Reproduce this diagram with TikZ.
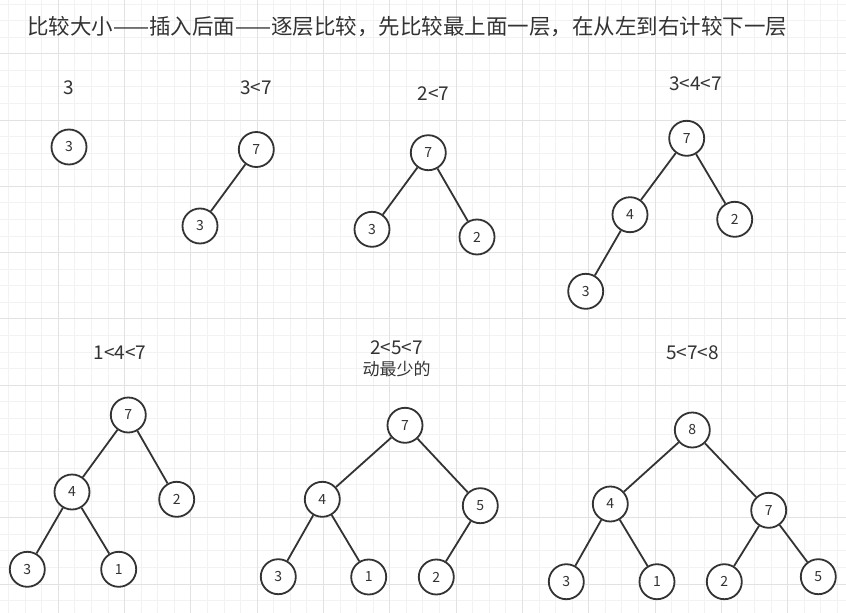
\documentclass[tikz,border=0pt]{standalone}
\usepackage{fontspec}
\setmainfont{Noto Sans CJK SC}
\definecolor{gridminor}{HTML}{F2F2F2}
\definecolor{gridmajor}{HTML}{E2E2E2}
\definecolor{ink}{HTML}{333333}
\tikzset{
  nd/.style={circle, draw=ink, line width=1.8pt, minimum size=35pt, inner sep=0pt, fill=white, text=ink, font=\fontsize{14}{14}\selectfont},
  lbl/.style={text=ink, inner sep=0pt, font=\fontsize{19}{19}\selectfont},
  edg/.style={draw=ink, line width=1.8pt},
}
\begin{document}
\begin{tikzpicture}[x=1pt,y=-1pt]
\useasboundingbox (0,0) rectangle (846,613);
\fill[white] (0,0) rectangle (846,613);
\begin{scope}
\clip (0,0) rectangle (846,613);
\foreach \i in {0,...,51} {\draw[gridminor, line width=1pt] ({8.6+\i*16.575},0) -- ++(0,613);}
\foreach \i in {0,...,37} {\draw[gridminor, line width=1pt] (0,{4.0+\i*16.575}) -- ++(846,0);}
\foreach \i in {0,...,13} {\draw[gridmajor, line width=1pt] ({58.3+(\i-1)*66.3},0) -- ++(0,613);}
\foreach \i in {0,...,10} {\draw[gridmajor, line width=1pt] (0,{120+(\i-2)*66.3}) -- ++(846,0);}
\end{scope}

\node[lbl, anchor=west, font=\fontsize{21.5}{22}\selectfont] (title) at (27,27) {比较大小——插入后面——逐层比较，先比较最上面一层，在从左到右计较下一层};

% tree 1
\node[lbl] (l1) at (69,88) {3};
\node[nd] (a1) at (69,147) {3};

% tree 2
\node[lbl] (l2) at (256,88) {3<7};
\node[nd] (b7) at (256.3,149.5) {7};
\node[nd] (b3) at (200,226) {3};
\draw[edg] (b7) -- (b3);

% tree 3
\node[lbl] (l3) at (433.3,94) {2<7};
\node[nd] (c7) at (428.3,152.7) {7};
\node[nd] (c3) at (372,229.3) {3};
\node[nd] (c2) at (477,237) {2};
\draw[edg] (c7) -- (c3);
\draw[edg] (c7) -- (c2);

% tree 4
\node[lbl] (l4) at (695.7,84) {3<4<7};
\node[nd] (d7) at (686.7,138.3) {7};
\node[nd] (d4) at (630,214.7) {4};
\node[nd] (d2) at (734.7,219.3) {2};
\node[nd] (d3) at (585.7,291.3) {3};
\draw[edg] (d7) -- (d4);
\draw[edg] (d7) -- (d2);
\draw[edg] (d4) -- (d3);

% tree 5
\node[lbl] (l5) at (120,352.7) {1<4<7};
\node[nd] (e7) at (128.3,415) {7};
\node[nd] (e4) at (72,492) {4};
\node[nd] (e2) at (176.7,499.3) {2};
\node[nd] (e3) at (27.3,569.3) {3};
\node[nd] (e1) at (118.7,569.3) {1};
\draw[edg] (e7) -- (e4);
\draw[edg] (e7) -- (e2);
\draw[edg] (e4) -- (e3);
\draw[edg] (e4) -- (e1);

% tree 6
\node[lbl] (l6) at (396.7,347.3) {2<5<7};
\node[lbl, font=\fontsize{17}{17}\selectfont] (l6b) at (396.7,369.3) {动最少的};
\node[nd] (f7) at (405,425.3) {7};
\node[nd] (f4) at (322.3,499.3) {4};
\node[nd] (f5) at (480.3,505.7) {5};
\node[nd] (f3) at (278.3,576.7) {3};
\node[nd] (f1) at (368.7,577) {1};
\node[nd] (f2) at (436.3,577) {2};
\draw[edg] (f7) -- (f4);
\draw[edg] (f7) -- (f5);
\draw[edg] (f4) -- (f3);
\draw[edg] (f4) -- (f1);
\draw[edg] (f5) -- (f2);

% tree 7
\node[lbl] (l7) at (692.7,352.7) {5<7<8};
\node[nd] (g8) at (692.3,430) {8};
\node[nd] (g4) at (610.3,504) {4};
\node[nd] (g7) at (768.7,510.3) {7};
\node[nd] (g3) at (566.3,581.7) {3};
\node[nd] (g1) at (657,581.7) {1};
\node[nd] (g2) at (724.3,581.7) {2};
\node[nd] (g5) at (818.3,576.7) {5};
\draw[edg] (g8) -- (g4);
\draw[edg] (g8) -- (g7);
\draw[edg] (g4) -- (g3);
\draw[edg] (g4) -- (g1);
\draw[edg] (g7) -- (g2);
\draw[edg] (g7) -- (g5);
\end{tikzpicture}
\end{document}
